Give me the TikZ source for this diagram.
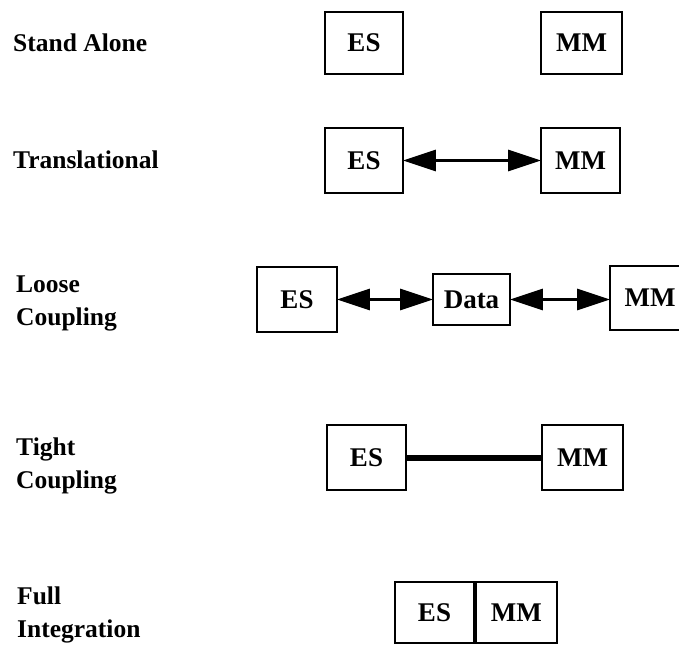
\documentclass[tikz,border=0pt]{standalone}
\usepackage{fontspec}
\setmainfont{Liberation Serif}
\usetikzlibrary{arrows.meta}
\begin{document}
\begin{tikzpicture}[x=1pt,y=-1pt,
  box/.style={draw,line width=1.8pt,inner sep=0pt,font=\fontsize{27}{27}\selectfont\bfseries},
  lbl/.style={anchor=west,align=left,inner sep=0pt,font=\fontsize{25.5}{33}\selectfont\bfseries},
  dbl/.style={line width=3pt,{Triangle[length=33pt,width=21pt]}-{Triangle[length=33pt,width=21pt]},shorten <=-1pt,shorten >=-1pt}]
\useasboundingbox (0,0) rectangle (679,645);
% labels
\node[lbl] (l1) at (13,43) {Stand Alone};
\node[lbl] (l2) at (13,160) {Translational};
\node[lbl] (l3) at (16,303) {Loose\\Coupling};
\node[lbl] (l4) at (16,466) {Tight\\Coupling};
\node[lbl] (l5) at (17,615) {Full\\Integration};
% row 1
\node[box,minimum width=78pt,minimum height=62pt] (es1) at (364,43) {ES};
\node[box,minimum width=81pt,minimum height=62pt] (mm1) at (581.5,43) {MM};
% row 2
\node[box,minimum width=78pt,minimum height=65pt] (es2) at (364,160.5) {ES};
\node[box,minimum width=79pt,minimum height=65pt] (mm2) at (580.5,160.5) {MM};
\draw[dbl] (es2) -- (mm2);
% row 3
\node[box,minimum width=80pt,minimum height=65pt] (es3) at (297,299.5) {ES};
\node[box,minimum width=77pt,minimum height=51pt] (data) at (471.5,299.5) {Data};
\node[box,minimum width=80pt,minimum height=64pt,text width=66pt,align=center] (mm3) at (650,298) {MM};
\draw[dbl] (es3) -- (data);
\draw[dbl] (data) -- (data -| mm3.west);
% row 4
\node[box,minimum width=79pt,minimum height=65pt] (es4) at (366.5,457.5) {ES};
\node[box,minimum width=81pt,minimum height=65pt] (mm4) at (582.5,457.5) {MM};
\draw[line width=6pt] (es4) -- (mm4);
% row 5
\node[box,minimum width=79pt,minimum height=61pt] (es5) at (434.5,612.5) {ES};
\node[box,minimum width=81pt,minimum height=61pt,anchor=west] (mm5) at (es5.east) {MM};
\end{tikzpicture}
\end{document}
